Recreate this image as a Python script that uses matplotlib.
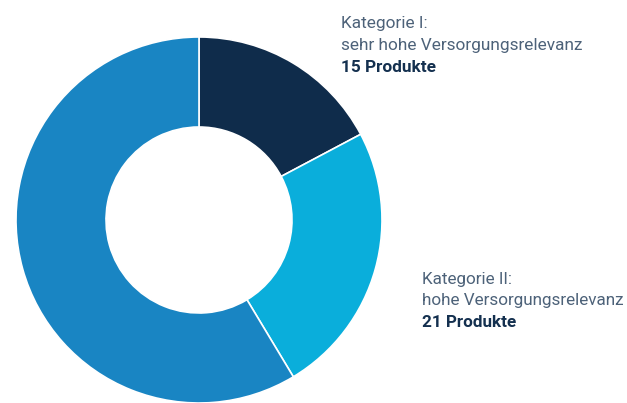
import matplotlib
matplotlib.use('Agg')
import matplotlib.pyplot as plt

# Products per category
categories = ['Kategorie I', 'Kategorie II', 'Übrige']
counts = [15, 21, 51]
colors = ['#0f2c4b', '#0aaedb', '#1985c3']

label_lines_1 = ['Kategorie I:', 'sehr hohe Versorgungsrelevanz', '15 Produkte']
label_lines_2 = ['Kategorie II:', 'hohe Versorgungsrelevanz', '21 Produkte']

W, H = 627, 403
fig = plt.figure(figsize=(W / 100, H / 100), dpi=100)
ax = fig.add_axes([0, 0, 1, 1])

ax.pie(counts, colors=colors, startangle=90, counterclock=False,
       center=(199, H - 220), radius=183,
       wedgeprops=dict(width=90, edgecolor='white', linewidth=1.2))
ax.set_xlim(0, W)
ax.set_ylim(0, H)
ax.set_aspect('equal')
ax.axis('off')

font = ['Roboto', 'DejaVu Sans']
renderer = fig.canvas.get_renderer()


def draw_label(x, baselines, lines, target_width):
    # size the text so the longest line is as wide as in the reference
    probe = ax.text(0, 0, lines[1], family=font, fontsize=13)
    w = probe.get_window_extent(renderer).width
    probe.remove()
    size = 13 * target_width / w
    for i, (y, txt) in enumerate(zip(baselines, lines)):
        bold = i == len(lines) - 1
        ax.text(x, H - y, txt, family=font, fontsize=size,
                fontweight='bold' if bold else 'normal',
                color='#14304f' if bold else '#4d6279',
                ha='left', va='baseline')


draw_label(341, [28, 50, 72.5], label_lines_1, 241)
draw_label(422, [284, 305.5, 327], label_lines_2, 203)

fig.savefig('out.png', dpi=100)
